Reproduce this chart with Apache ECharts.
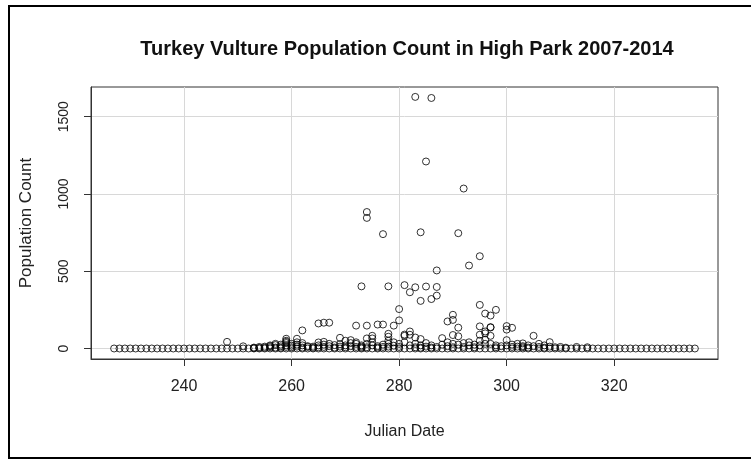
<!DOCTYPE html>
<html>
<head>
<meta charset="utf-8">
<title>Turkey Vulture Population Count in High Park 2007-2014</title>
<script src="https://cdn.jsdelivr.net/npm/echarts@6/dist/echarts.min.js"></script>
<style>
  html, body { margin: 0; padding: 0; background: #ffffff; }
  #chart { width: 751px; height: 461px; }
</style>
</head>
<body>
<div id="chart"></div>
<script>
// Days of the autumn count season on which no vultures were recorded (at least once)
var zeroDays = [
  227, 228, 229, 230, 231, 232, 233, 234, 235, 236, 237, 238, 239, 240, 241, 242, 243, 244,
  245, 246, 247, 248, 249, 250, 251, 252, 253, 254, 255, 256, 257, 258, 259, 260, 261, 262,
  263, 264, 265, 266, 267, 268, 269, 270, 271, 272, 273, 274, 275, 276, 277, 278, 279, 280,
  281, 282, 283, 284, 285, 286, 287, 288, 289, 290, 291, 292, 293, 294, 295, 296, 297, 298,
  299, 300, 301, 302, 303, 304, 305, 306, 307, 308, 309, 310, 311, 312, 313, 314, 315, 316,
  317, 318, 319, 320, 321, 322, 323, 324, 325, 326, 327, 328, 329, 330, 331, 332, 333, 334, 335
];

// Days with small daily counts
var lowDays = [
  248, 251, 253, 253, 254, 254, 255, 255, 256, 256, 256, 257, 257, 257, 258, 258, 258,
  259, 259, 259, 259, 259, 259, 260, 260, 260, 261, 261, 261, 261, 262, 262, 262, 263, 263,
  264, 264, 265, 265, 265, 266, 266, 266, 267, 267, 268, 268, 269, 269, 269, 270, 270, 270,
  271, 271, 271, 272, 272, 272, 273, 273, 273, 274, 274, 274, 275, 275, 275, 275, 276, 276,
  277, 277, 278, 278, 278, 278, 278, 279, 279, 280, 280, 281, 281, 281, 282, 282, 282,
  283, 283, 283, 284, 284, 284, 285, 285, 286, 286, 287, 288, 288, 289, 289, 290, 290, 290,
  291, 291, 292, 292, 293, 293, 294, 294, 295, 295, 295, 296, 296, 296, 297, 297, 298, 298,
  299, 300, 300, 301, 301, 302, 302, 303, 303, 303, 304, 304, 305, 305, 306, 306, 307, 307,
  308, 308, 309, 310, 311, 313, 315
];
var lowCounts = [
  43, 14, 3, 6, 4, 10, 5, 12, 8, 15, 20, 6, 22, 30, 5, 14, 25,
  10, 20, 35, 43, 63, 50, 8, 18, 30, 12, 25, 40, 63, 6, 20, 35, 10, 15,
  5, 12, 39, 20, 8, 43, 25, 10, 15, 30, 6, 22, 69, 12, 28, 50, 20, 8,
  54, 35, 15, 30, 10, 40, 20, 5, 12, 65, 30, 8, 82, 65, 40, 20, 15, 6,
  25, 10, 95, 76, 50, 30, 12, 40, 18, 30, 10, 82, 90, 40, 110, 89, 20,
  71, 30, 8, 61, 20, 5, 35, 12, 20, 6, 10, 67, 25, 40, 15, 87, 30, 8,
  79, 25, 35, 10, 40, 20, 25, 8, 89, 50, 20, 56, 98, 30, 82, 30, 20, 8,
  15, 54, 20, 10, 25, 30, 12, 33, 15, 8, 20, 6, 82, 15, 30, 10, 20, 5,
  41, 12, 8, 10, 5, 10, 8
];

// Days with larger daily counts (peak migration)
var highDays = [
  283, 286, 285, 292, 274, 274, 277, 284, 291, 295, 293, 287,
  273, 278, 281, 283, 285, 287, 282, 287, 284, 286,
  295, 298, 296, 297, 290, 290, 289, 280, 280, 279, 276, 277, 274, 272,
  265, 266, 267, 262, 291, 300, 300, 301, 295, 297, 296, 297
];
var highCounts = [
  1628, 1621, 1210, 1035, 883, 845, 740, 752, 746, 597, 537, 505,
  402, 402, 410, 396, 401, 398, 364, 342, 308, 320,
  282, 250, 226, 213, 218, 185, 175, 255, 182, 148, 155, 155, 148, 148,
  162, 167, 167, 117, 135, 145, 122, 134, 143, 136, 110, 138
];

// Axis ticks
var xTicks = [240, 260, 280, 300, 320];
var yTicks = [0, 500, 1000, 1500];

var points = [];
zeroDays.forEach(function (d) { points.push([d, 0]); });
lowDays.forEach(function (d, i) { points.push([d, lowCounts[i]]); });
highDays.forEach(function (d, i) { points.push([d, highCounts[i]]); });

var chart = echarts.init(document.getElementById('chart'), null, { renderer: 'canvas' });

var labelFont = '"Liberation Sans", Arial, sans-serif';
var textColor = '#222';

chart.setOption({
  animation: false,
  backgroundColor: '#ffffff',
  title: {
    text: 'Turkey Vulture Population Count in High Park 2007-2014',
    left: 402,
    top: 34,
    textAlign: 'center',
    textStyle: {
      fontFamily: labelFont,
      fontWeight: 'bold',
      fontSize: 20,
      color: '#111'
    }
  },
  grid: {
    left: 91,
    top: 87,
    right: 33,
    bottom: 102,
    show: true,
    borderColor: '#333',
    borderWidth: 1,
    backgroundColor: 'transparent'
  },
  xAxis: {
    type: 'value',
    min: 222.7,
    max: 339.3,
    name: 'Julian Date',
    nameLocation: 'middle',
    nameGap: 65,
    nameTextStyle: { fontFamily: labelFont, fontSize: 16, color: textColor },
    axisLine: { show: true, onZero: false, lineStyle: { color: '#333', width: 1 } },
    axisTick: { show: true, length: 7, lineStyle: { color: '#333' }, customValues: xTicks },
    axisLabel: { margin: 20, fontFamily: labelFont, fontSize: 16, color: textColor, customValues: xTicks },
    splitLine: { show: true, lineStyle: { color: '#d8d8d8', width: 1 } }
  },
  yAxis: {
    type: 'value',
    min: -68,
    max: 1692,
    name: 'Population Count',
    nameLocation: 'middle',
    nameRotate: 90,
    nameGap: 56,
    nameTextStyle: { fontFamily: labelFont, fontSize: 17, color: textColor },
    axisLine: { show: true, onZero: false, lineStyle: { color: '#333', width: 1 } },
    axisTick: { show: true, length: 7, lineStyle: { color: '#333' }, customValues: yTicks },
    axisLabel: {
      margin: 20, rotate: 90, fontFamily: labelFont, fontSize: 14, color: textColor,
      customValues: yTicks,
      formatter: function (v) { return String(v); }
    },
    splitLine: { show: true, lineStyle: { color: '#d8d8d8', width: 1 } }
  },
  graphic: [
    { type: 'line', shape: { x1: 8, y1: 6, x2: 751, y2: 6 }, style: { stroke: '#000', lineWidth: 2 } },
    { type: 'line', shape: { x1: 9, y1: 5, x2: 9, y2: 459 }, style: { stroke: '#000', lineWidth: 2 } },
    { type: 'line', shape: { x1: 8, y1: 458, x2: 751, y2: 458 }, style: { stroke: '#000', lineWidth: 2 } }
  ],
  series: [{
    type: 'scatter',
    data: points,
    symbol: 'circle',
    symbolSize: 7,
    silent: true,
    itemStyle: { color: 'rgba(0,0,0,0)', borderColor: '#000', borderWidth: 1 },
    emphasis: { disabled: true }
  }]
});
</script>
</body>
</html>
